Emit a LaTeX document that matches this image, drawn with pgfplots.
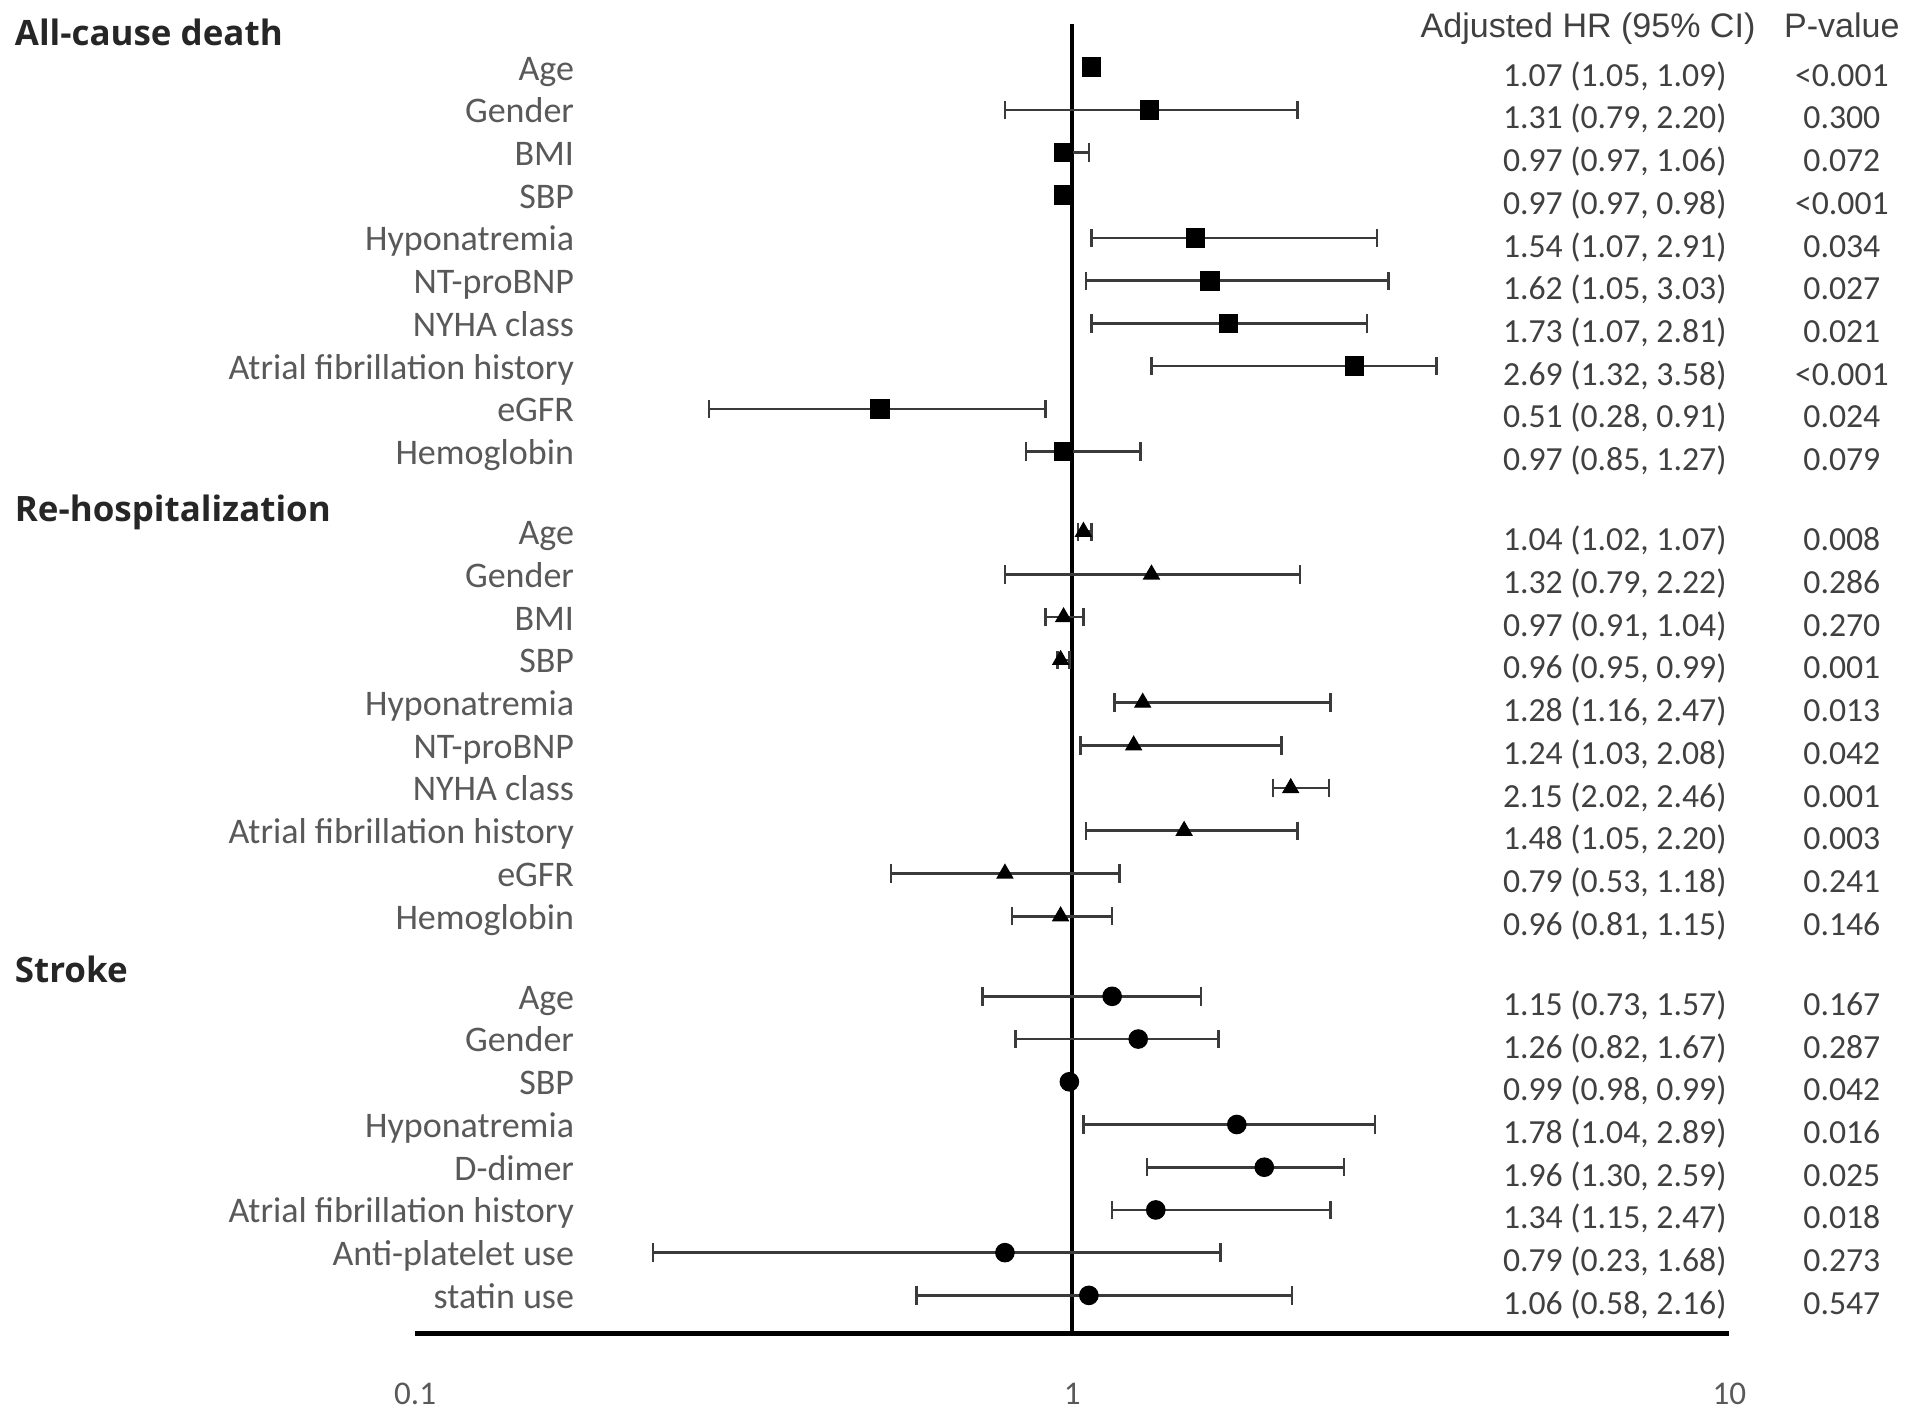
\documentclass[border=0pt]{standalone}
\usepackage{fontspec}
\setmainfont{Carlito}
\newfontfamily\hdrfont{Liberation Sans}
\newfontfamily\grpfont{Open Sans}
\usepackage{pgfplots}
\usepackage{pgfplotstable}
\pgfplotsset{compat=1.18}
\definecolor{lab}{HTML}{595959}
\definecolor{num}{HTML}{404040}
\definecolor{cicol}{HTML}{3A3A3A}

% row = position from the top, in rows
\pgfplotstableread{
row hr lo hi var txt p
1 1.07 1.05 1.09 Age {1.07 (1.05, 1.09)} {<0.001}
2 1.31 0.79 2.20 Gender {1.31 (0.79, 2.20)} 0.300
3 0.97 0.97 1.06 BMI {0.97 (0.97, 1.06)} 0.072
4 0.97 0.97 0.98 SBP {0.97 (0.97, 0.98)} {<0.001}
5 1.54 1.07 2.91 Hyponatremia {1.54 (1.07, 2.91)} 0.034
6 1.62 1.05 3.03 NT-proBNP {1.62 (1.05, 3.03)} 0.027
7 1.73 1.07 2.81 {NYHA class} {1.73 (1.07, 2.81)} 0.021
8 2.69 1.32 3.58 {Atrial fibrillation history} {2.69 (1.32, 3.58)} {<0.001}
9 0.51 0.28 0.91 eGFR {0.51 (0.28, 0.91)} 0.024
10 0.97 0.85 1.27 Hemoglobin {0.97 (0.85, 1.27)} 0.079
}\death

\pgfplotstableread{
row hr lo hi var txt p
11.875 1.04 1.02 1.07 Age {1.04 (1.02, 1.07)} 0.008
12.875 1.32 0.79 2.22 Gender {1.32 (0.79, 2.22)} 0.286
13.875 0.97 0.91 1.04 BMI {0.97 (0.91, 1.04)} 0.270
14.875 0.96 0.95 0.99 SBP {0.96 (0.95, 0.99)} 0.001
15.875 1.28 1.16 2.47 Hyponatremia {1.28 (1.16, 2.47)} 0.013
16.875 1.24 1.03 2.08 NT-proBNP {1.24 (1.03, 2.08)} 0.042
17.875 2.15 2.02 2.46 {NYHA class} {2.15 (2.02, 2.46)} 0.001
18.875 1.48 1.05 2.20 {Atrial fibrillation history} {1.48 (1.05, 2.20)} 0.003
19.875 0.79 0.53 1.18 eGFR {0.79 (0.53, 1.18)} 0.241
20.875 0.96 0.81 1.15 Hemoglobin {0.96 (0.81, 1.15)} 0.146
}\rehosp

\pgfplotstableread{
row hr lo hi var txt p
22.75 1.15 0.73 1.57 Age {1.15 (0.73, 1.57)} 0.167
23.75 1.26 0.82 1.67 Gender {1.26 (0.82, 1.67)} 0.287
24.75 0.99 0.98 0.99 SBP {0.99 (0.98, 0.99)} 0.042
25.75 1.78 1.04 2.89 Hyponatremia {1.78 (1.04, 2.89)} 0.016
26.75 1.96 1.30 2.59 D-dimer {1.96 (1.30, 2.59)} 0.025
27.75 1.34 1.15 2.47 {Atrial fibrillation history} {1.34 (1.15, 2.47)} 0.018
28.75 0.79 0.23 1.68 {Anti-platelet use} {0.79 (0.23, 1.68)} 0.273
29.75 1.06 0.58 2.16 {statin use} {1.06 (0.58, 2.16)} 0.547
}\stroke

\pgfplotsset{
  ci/.style={only marks, black,
    error bars/x dir=both, error bars/x explicit,
    error bars/error mark=|,
    error bars/error bar style={line width=0.85pt, cicol},
    error bars/error mark options={line width=0.85pt, cicol, mark size=3pt}},
  txtcol/.style={draw=none, mark=none, nodes near coords,
    point meta=explicit symbolic,
    every node near coord/.append style={inner sep=0pt, #1}},
}

\newcommand\textcols[1]{%
  \addplot[txtcol={anchor=base east, yshift=-4.2pt, text=lab, font=\fontsize{11.75}{13}\selectfont}]
    table[x expr=0.1749, y expr=-\thisrow{row}, meta=var] {#1};
  \addplot[txtcol={anchor=base east, yshift=-6.2pt, text=num, font=\fontsize{11}{13}\selectfont}]
    table[x expr=9.92, y expr=-\thisrow{row}, meta=txt] {#1};
  \addplot[txtcol={anchor=base, yshift=-6.2pt, text=num, font=\fontsize{11}{13}\selectfont}]
    table[x expr=14.83, y expr=-\thisrow{row}, meta=p] {#1};
}

\begin{document}
\begin{tikzpicture}
\begin{axis}[
  scale only axis, width=428.7pt, height=427.3pt,
  xmode=log, xmin=0.1, xmax=10, ymin=-30.65, ymax=0.0135,
  axis x line=bottom, axis y line=none,
  x axis line style={line width=1.6pt, -},
  xtick={0.1,1,10}, xticklabels={0.1,1,10},
  major tick length=0pt, minor tick length=0pt,
  xticklabel style={font=\fontsize{10.8}{13}\selectfont, text=lab,
    anchor=base, inner sep=0pt, yshift=-23.2pt},
  clip=false,
]
\addplot[line width=1.3pt, black] coordinates {(1,0.0135) (1,-30.65)};

\addplot[ci, mark=square*, mark size=3pt] table[x=hr, y expr=-\thisrow{row},
  x error plus expr=\thisrow{hi}-\thisrow{hr}, x error minus expr=\thisrow{hr}-\thisrow{lo}] {\death};
\addplot[ci, mark=triangle*, mark size=2.9pt] table[x=hr, y expr=-\thisrow{row},
  x error plus expr=\thisrow{hi}-\thisrow{hr}, x error minus expr=\thisrow{hr}-\thisrow{lo}] {\rehosp};
\addplot[ci, mark=*, mark size=3pt] table[x=hr, y expr=-\thisrow{row},
  x error plus expr=\thisrow{hi}-\thisrow{hr}, x error minus expr=\thisrow{hr}-\thisrow{lo}] {\stroke};

\textcols{\death}
\textcols{\rehosp}
\textcols{\stroke}

\begin{scope}[every node/.style={inner sep=0pt, anchor=base west,
    font=\grpfont\bfseries\fontsize{11.4}{14}\selectfont, text=black!85}]
\node at (axis cs:0.02455,-0.50) {All-cause death};
\node at (axis cs:0.02455,-11.64) {Re-hospitalization};
\node at (axis cs:0.02455,-22.42) {Stroke};
\end{scope}
\begin{scope}[every node/.style={inner sep=0pt, anchor=base,
    font=\hdrfont\fontsize{11.1}{13}\selectfont, text=num}]
\node at (axis cs:6.094,-0.30) {Adjusted HR (95\% CI)};
\node at (axis cs:14.83,-0.30) {P-value};
\end{scope}

\coordinate (bbll) at (axis cs:0.02335,-32.615);
\coordinate (bbur) at (axis cs:19.03,0.5716);
\end{axis}
\pgfresetboundingbox
\path (bbll) rectangle (bbur);
\end{tikzpicture}
\end{document}
